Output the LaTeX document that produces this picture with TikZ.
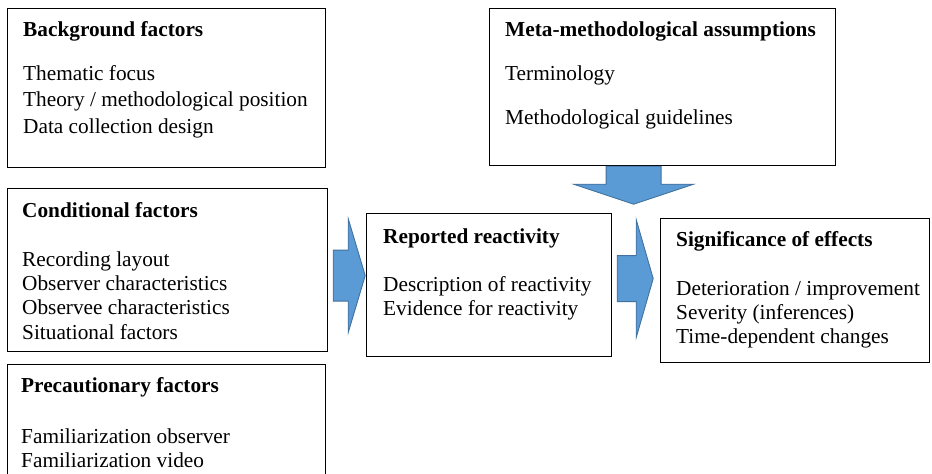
\documentclass[tikz,border=0pt]{standalone}
\usepackage{fontspec}
\setmainfont{Liberation Serif}
\usetikzlibrary{calc,positioning}

\definecolor{arrowblue}{RGB}{91,155,213}
\definecolor{arrowedge}{RGB}{65,113,156}

\begin{document}
\begin{tikzpicture}[
  x=1pt, y=-1pt,
  box/.style={draw, line width=1.2pt, anchor=north west, inner sep=0pt},
  txt/.style={anchor=north west, inner sep=0pt, align=left,
              font=\fontsize{21.3}{24.4}\selectfont},
  blockarrow/.style={fill=arrowblue, draw=arrowedge, line width=0.9pt, line join=miter}
]
\useasboundingbox (0,0) rectangle (932,474);

% ---------- boxes ----------
\node[box, minimum width=318pt, minimum height=159pt] (bg) at (7,8) {};
\node[box, minimum width=346pt, minimum height=157pt] (meta) at (489,8) {};
\node[box, minimum width=320pt, minimum height=163pt] (cond) at (7,188) {};
\node[box, minimum width=245pt, minimum height=143pt] (rep) at (366,213) {};
\node[box, minimum width=269pt, minimum height=144pt] (sig) at (660,218) {};
\node[box, minimum width=318pt, minimum height=130pt] (prec) at (7,364) {};

% ---------- texts ----------
\node[txt, below right=10.9pt and 16pt of bg.north west] (bgtext)
  {\strut\textbf{Background factors}\\[19.6pt]
   Thematic focus\\[2.1pt]
   Theory / methodological position\\[2.1pt]
   Data collection design};
\node[txt, below right=10.9pt and 16pt of meta.north west] (metatext)
  {\strut\textbf{Meta-methodological assumptions}\\[19.6pt]
   Terminology\\[19.6pt]
   Methodological guidelines};
\node[txt, below right=11.9pt and 15pt of cond.north west] (condtext)
  {\strut\textbf{Conditional factors}\\[24.6pt]
   Recording layout\\
   Observer characteristics\\
   Observee characteristics\\
   Situational factors};
\node[txt, below right=12.9pt and 17pt of rep.north west] (reptext)
  {\strut\textbf{Reported reactivity}\\[23.6pt]
   Description of reactivity\\
   Evidence for reactivity};
\node[txt, below right=10.9pt and 16pt of sig.north west] (sigtext)
  {\strut\textbf{Significance of effects}\\[24.6pt]
   Deterioration / improvement\\
   Severity (inferences)\\
   Time-dependent changes};
\node[txt, below right=10.9pt and 14pt of prec.north west] (prectext)
  {\strut\textbf{Precautionary factors}\\[26.6pt]
   Familiarization observer\\
   Familiarization video};

% ---------- block arrows ----------
% conditional -> reported
\begin{scope}[shift={($(cond.east)+(0,5.5)$)}]
  \draw[blockarrow] (5,-25.5) -- (20,-25.5) -- (20,-57) -- (37,0)
    -- (20,57) -- (20,25.5) -- (5,25.5) -- cycle;
\end{scope}
% reported -> significance
\begin{scope}[shift={($(rep.east)+(0,-6.5)$)}]
  \draw[blockarrow] (5,-23) -- (24,-23) -- (24,-59) -- (41,0)
    -- (24,59) -- (24,23) -- (5,23) -- cycle;
\end{scope}
% meta -> down
\begin{scope}[shift={($(meta.south)+(-29,0)$)}]
  \draw[blockarrow] (-27.5,0) -- (27.5,0) -- (27.5,18) -- (60,18)
    -- (0,38) -- (-60,18) -- (-27.5,18) -- cycle;
\end{scope}

\end{tikzpicture}
\end{document}
